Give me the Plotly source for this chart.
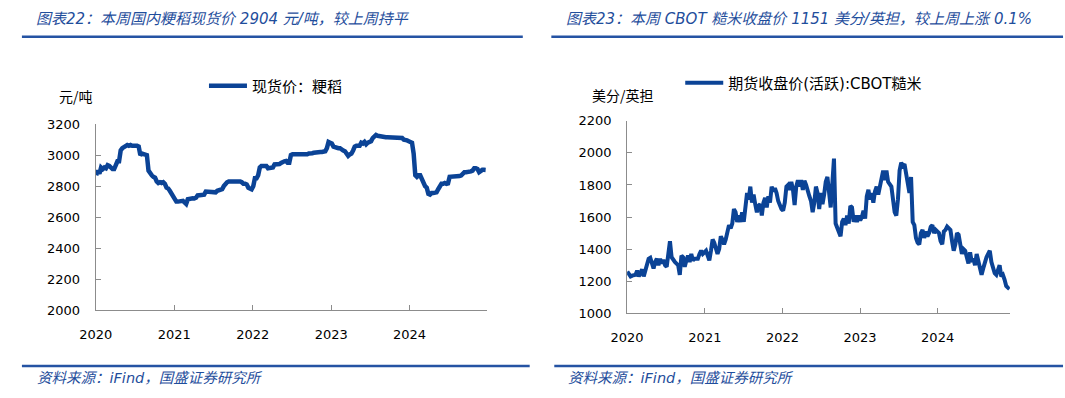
import pandas as pd
import plotly.graph_objects as go

# ---------------- data ----------------
# Left chart: domestic japonica rice spot price (yuan/ton)
left_start, left_end = "2020-01-03", "2024-12-20"
rice_spot = [
    2870, 2900, 2880, 2920, 2910, 2920, 2915, 2935, 2930, 2915,
    2910, 2910, 2940, 2960, 2960, 3030, 3045, 3050, 3055, 3065,
    3060, 3065, 3060, 3062, 3060, 3060, 3055, 3000, 3010, 3005,
    3005, 3000, 2900, 2880, 2870, 2860, 2855, 2830, 2820, 2825,
    2820, 2825, 2815, 2790, 2785, 2770, 2750, 2730, 2710, 2700,
    2700, 2700, 2698, 2705, 2695, 2685, 2715, 2720, 2720, 2722,
    2720, 2725, 2740, 2740, 2742, 2740, 2745, 2765, 2765, 2760,
    2758, 2758, 2760, 2760, 2770, 2775, 2775, 2780, 2800, 2815,
    2825, 2830, 2830, 2832, 2830, 2832, 2835, 2830, 2830, 2825,
    2815, 2815, 2810, 2790, 2780, 2780, 2800, 2850, 2850, 2870,
    2920, 2930, 2930, 2930, 2930, 2915, 2915, 2915, 2920, 2940,
    2940, 2940, 2942, 2950, 2960, 2960, 2962, 2950, 2950, 3000,
    3005, 3005, 3003, 3003, 3000, 3000, 3000, 3000, 3002, 3005,
    3010, 3015, 3012, 3015, 3018, 3018, 3018, 3020, 3020, 3020,
    3025, 3045, 3085, 3080, 3075, 3055, 3050, 3048, 3045, 3045,
    3035, 3030, 3025, 3005, 2995, 3005, 3010, 3030, 3055, 3060,
    3060, 3060, 3080, 3075, 3085, 3070, 3080, 3085, 3090, 3110,
    3125, 3130, 3125, 3122, 3120, 3120, 3118, 3115, 3115, 3115,
    3112, 3112, 3112, 3112, 3110, 3110, 3108, 3110, 3100, 3100,
    3095, 3090, 3088, 3080, 3010, 2870, 2860, 2870, 2870, 2840,
    2810, 2800, 2790, 2750, 2745, 2755, 2755, 2755, 2760, 2780,
    2800, 2815, 2815, 2820, 2815, 2818, 2860, 2860, 2860, 2860,
    2865, 2865, 2865, 2868, 2880, 2890, 2890, 2890, 2890, 2895,
    2900, 2915, 2915, 2910, 2890, 2900, 2905, 2905, 2904,
]

# Right chart: CBOT rough rice active futures close (US cents / cwt)
right_start, right_end = "2020-01-02", "2024-12-04"
cbot_rice = [
    1260, 1240, 1230, 1235, 1240, 1240, 1266, 1230, 1250, 1274,
    1230, 1270, 1310, 1340, 1346, 1310, 1280, 1320, 1340, 1300,
    1340, 1310, 1334, 1300, 1290, 1370, 1450, 1350, 1330, 1320,
    1310, 1300, 1240, 1360, 1350, 1290, 1330, 1360, 1320, 1370,
    1330, 1340, 1340, 1340, 1370, 1390, 1370, 1380, 1390, 1360,
    1330, 1390, 1460, 1440, 1410, 1370, 1400, 1480, 1460, 1430,
    1460, 1500, 1550, 1530, 1560, 1650, 1630, 1570, 1610, 1570,
    1630, 1570, 1660, 1750, 1710, 1790, 1690, 1740, 1680, 1630,
    1670, 1680, 1610, 1690, 1720, 1660, 1730, 1690, 1790, 1760,
    1780, 1750, 1700, 1670, 1650, 1640, 1690, 1790, 1800, 1770,
    1820, 1770, 1675, 1790, 1830, 1790, 1830, 1770, 1826, 1800,
    1750, 1730, 1700, 1630, 1690, 1790, 1750, 1650, 1750, 1680,
    1740, 1820, 1850, 1750, 1660, 1810, 1965, 1560, 1530, 1510,
    1480, 1570, 1590, 1550, 1610, 1560, 1670, 1660, 1570, 1610,
    1570, 1610, 1580, 1600, 1640, 1590, 1730, 1770, 1710, 1750,
    1690, 1760, 1790, 1740, 1790, 1850, 1890, 1830, 1890, 1820,
    1800, 1790, 1710, 1630, 1610, 1710, 1890, 1940, 1920, 1930,
    1870, 1790, 1750, 1850, 1570, 1550, 1470, 1440, 1430, 1500,
    1520, 1470, 1510, 1480, 1500, 1540, 1550, 1500, 1520, 1510,
    1500, 1450, 1430, 1510, 1520, 1540, 1530, 1520, 1450, 1390,
    1430, 1500, 1490, 1410, 1370, 1400, 1390, 1350, 1310, 1380,
    1320, 1340, 1300, 1370, 1320, 1270, 1240, 1280, 1330, 1350,
    1370, 1390, 1320, 1280, 1250, 1240, 1270, 1300, 1230, 1240,
    1210, 1170, 1160, 1151,
]

year_ticks = ["2020-01-01", "2021-01-01", "2022-01-01", "2023-01-01", "2024-01-01"]
year_labels = ["2020", "2021", "2022", "2023", "2024"]
left_yticks = [2000, 2200, 2400, 2600, 2800, 3000, 3200]
right_yticks = [1000, 1200, 1400, 1600, 1800, 2000, 2200]

left_title = "图表22：本周国内粳稻现货价 2904 元/吨，较上周持平"
right_title = "图表23：本周 CBOT 糙米收盘价 1151 美分/英担，较上周上涨 0.1%"
source_text = "资料来源：iFind，国盛证券研究所"
left_name = "现货价：粳稻"
right_name = "期货收盘价(活跃):CBOT糙米"
left_unit = "元/吨"
right_unit = "美分/英担"

left_dates = pd.date_range(left_start, left_end, periods=len(rice_spot))
right_dates = pd.date_range(right_start, right_end, periods=len(cbot_rice))

# ---------------- figure ----------------
W, H = 1065, 398
LINE = "#0B4396"
BLUE = "#1F4E9C"
AX = "#8C8C8C"
CJK = "Noto Sans CJK SC"
TICKFONT = dict(family="DejaVu Sans, " + CJK, size=13, color="#000000")


def px(x):
    return x / W


def py(y):
    return 1 - y / H


fig = go.Figure()
fig.add_trace(go.Scatter(x=left_dates, y=rice_spot, mode="lines", name=left_name,
                         line=dict(color=LINE, width=4.5), xaxis="x", yaxis="y",
                         legend="legend"))
fig.add_trace(go.Scatter(x=right_dates, y=cbot_rice, mode="lines", name=right_name,
                         line=dict(color=LINE, width=4), xaxis="x2", yaxis="y2",
                         legend="legend2"))

common_x = dict(type="date", tickvals=year_ticks, ticktext=year_labels,
                ticks="inside", ticklen=5, tickcolor=AX, tickwidth=1,
                showline=True, linecolor=AX, linewidth=1, showgrid=False,
                zeroline=False, tickfont=TICKFONT, ticklabelstandoff=12,
                fixedrange=True)
common_y = dict(ticks="inside", ticklen=5, tickcolor=AX, tickwidth=1,
                showline=True, linecolor=AX, linewidth=1, showgrid=False,
                zeroline=False, tickfont=TICKFONT, ticklabelstandoff=12,
                fixedrange=True)

fig.update_layout(
    width=W, height=H,
    margin=dict(l=0, r=0, t=0, b=0),
    paper_bgcolor="white", plot_bgcolor="white",
    xaxis=dict(domain=[px(80), px(478)], range=["2020-01-01", "2024-12-28"],
               anchor="y", **common_x),
    yaxis=dict(domain=[py(315), py(121.7)], range=[2000, 3200], tickvals=left_yticks,
               anchor="x", **common_y),
    xaxis2=dict(domain=[px(620), px(1009)], range=["2020-01-01", "2024-12-06"],
                anchor="y2", **common_x),
    yaxis2=dict(domain=[py(318.3), py(118.3)], range=[1000, 2200], tickvals=right_yticks,
                anchor="x2", **common_y),
    legend=dict(x=px(190), y=py(82), xanchor="left", yanchor="middle",
                font=dict(family="DejaVu Sans, " + CJK, size=15, color="#000000"),
                bgcolor="rgba(0,0,0,0)", itemwidth=38),
    legend2=dict(x=px(674), y=py(79), xanchor="left", yanchor="middle",
                 font=dict(family="DejaVu Sans, " + CJK, size=15, color="#000000"),
                 bgcolor="rgba(0,0,0,0)", itemwidth=38),
    showlegend=True,
)

title_font = dict(family="DejaVu Sans, " + CJK, size=15, color=BLUE, style="italic")
src_font = dict(family="DejaVu Sans, " + CJK, size=14.5, color=BLUE, style="italic")
unit_font = dict(family=CJK, size=14, color="#000000")

annos = [
    dict(x=px(17), y=py(12), text=left_title, font=title_font, xanchor="left"),
    dict(x=px(556), y=py(12), text=right_title, font=title_font, xanchor="left"),
    dict(x=px(18), y=py(386), text=source_text, font=src_font, xanchor="left"),
    dict(x=px(558), y=py(386), text=source_text, font=src_font, xanchor="left"),
    dict(x=px(60), y=py(93), text=left_unit, font=unit_font, xanchor="center"),
    dict(x=px(616), y=py(91), text=right_unit, font=unit_font, xanchor="center"),
]
for a in annos:
    fig.add_annotation(xref="paper", yref="paper", yanchor="middle", showarrow=False, **a)

for (x0, x1, y) in [(5, 514, 31), (543, 1063, 31), (5, 521, 373), (546, 1063, 373)]:
    fig.add_shape(type="line", xref="paper", yref="paper", x0=px(x0), x1=px(x1),
                  y0=py(y), y1=py(y), line=dict(color="#2553A3", width=2.5))

fig.write_html("out.html", config={"displayModeBar": False},
               post_script="document.body.style.margin='0';document.body.style.overflow='hidden';")
